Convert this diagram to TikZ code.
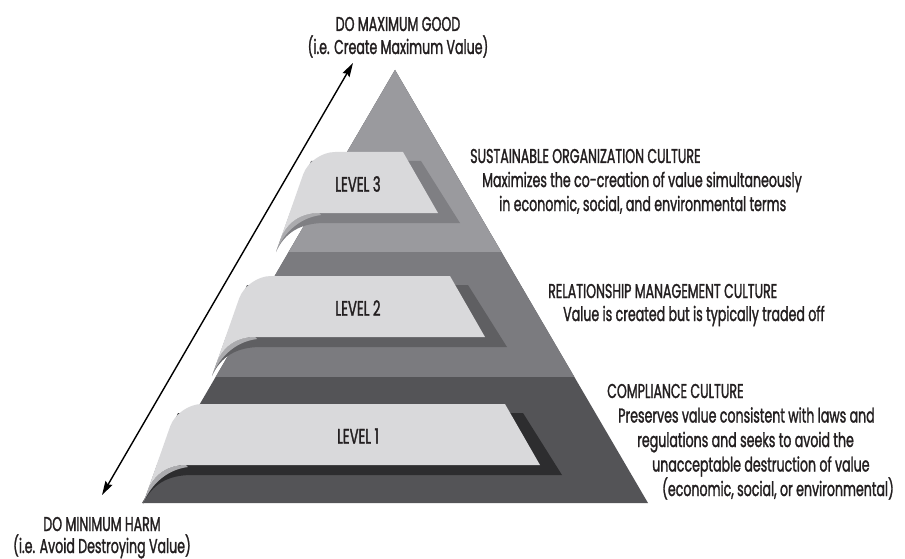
\documentclass[tikz,border=0pt]{standalone}
\usepackage{fontspec}
\setmainfont{Poppins}[FakeStretch=0.63,FakeBold=1.4]
\usetikzlibrary{arrows.meta}

\definecolor{ink}{HTML}{231F20}
\definecolor{tierthree}{HTML}{9A9A9E}
\definecolor{tiertwo}{HTML}{7B7B7F}
\definecolor{tierone}{HTML}{545457}
\definecolor{shadethree}{HTML}{7F7F83}
\definecolor{shadetwo}{HTML}{5F5F62}
\definecolor{shadeone}{HTML}{2D2D2F}
\definecolor{tabface}{HTML}{D9D9DB}
\definecolor{tabcurl}{HTML}{ABABAE}

\tikzset{
  txt/.style={font=\fontsize{20}{24}\selectfont, text=ink, inner sep=0pt, anchor=base west},
  endtxt/.style={font=\fontsize{20}{24}\selectfont, text=ink, inner sep=0pt, anchor=base},
  levellabel/.style={font=\fontsize{21}{24}\selectfont, text=ink, inner sep=0pt},
  arrowline/.style={line width=1.4pt, draw=black, {Stealth[length=14pt,width=8pt,inset=2pt]}-{Stealth[length=14pt,width=8pt,inset=2pt]}},
}

% One level tab: #1 node name, #2/#3 top-left corner, #4 length of top edge,
% #5 shadow colour, #6 label
\newcommand\leveltab[6]{%
  \begin{scope}[shift={(#2,#3)}]
    % drop shadow beneath and right of the sheet
    \fill[#5] (-35,100) .. controls (-26,80) and (-10,71) .. (14,71)
      -- ({#4+57},71) -- ({#4+18},9) -- (0,9) -- (-21,61) -- cycle;
    % underside of the curled edge
    \fill[tabcurl] (-30.5,87) -- (-35,100) .. controls (-29,84) and (-14,66) .. (10,63)
      -- (8,61) .. controls (-12,61) and (-25,72) .. (-30.5,87) -- cycle;
    % top face of the sheet
    \fill[tabface] (-30.5,87) [rounded corners=24pt] -- (0,0) [sharp corners] -- (#4,0)
      -- ({#4+35},61) -- (8,61) .. controls (-12,61) and (-25,72) .. (-30.5,87) -- cycle;
  \end{scope}
  \node[levellabel] (#1) at (358,{#3+32}) {#6};
}

\begin{document}
\begin{tikzpicture}[x=1pt,y=-1pt]
\useasboundingbox (0,0) rectangle (905,559);

% pyramid with three tiers
\coordinate (apex) at (395,70);
\coordinate (bl) at (142,503);
\coordinate (br) at (648,503);
\fill[tierone] (bl) -- (apex) -- (br) -- cycle;
\begin{scope}
  \clip (bl) -- (apex) -- (br) -- cycle;
  \fill[tiertwo] (100,60) rectangle (700,377);
  \fill[tierthree] (100,60) rectangle (700,252);
\end{scope}

% level tabs
\leveltab{lvthree}{311}{152}{92}{shadethree}{LEVEL 3}
\leveltab{lvtwo}{247}{276}{203}{shadetwo}{LEVEL 2}
\leveltab{lvone}{178}{404}{327}{shadeone}{LEVEL 1}

% scale ends
\node[endtxt] (good) at (398,31) {DO MAXIMUM GOOD};
\node[endtxt] (goodsub) at (398,54) {(i.e. Create Maximum Value)};
\node[endtxt] (harm) at (102,531) {DO MINIMUM HARM};
\node[endtxt] (harmsub) at (102,553) {(i.e. Avoid Destroying Value)};

\coordinate (arrowlow) at (102,495);
\coordinate (arrowhigh) at (353,63);
\draw[arrowline] (arrowlow) -- (arrowhigh);

% descriptions
\node[txt] (sust) at (470,163) {SUSTAINABLE ORGANIZATION CULTURE};
\node[txt] (sustA) at (482,187) {Maximizes the co-creation of value simultaneously};
\node[txt] (sustB) at (499,211) {in economic, social, and environmental terms};

\node[txt] (rel) at (548,298) {RELATIONSHIP MANAGEMENT CULTURE};
\node[txt] (relA) at (563,321) {Value is created but is typically traded off};

\node[txt] (comp) at (607,398) {COMPLIANCE CULTURE};
\node[txt] (compA) at (618,422.5) {Preserves value consistent with laws and};
\node[txt] (compB) at (637,447) {regulations and seeks to avoid the};
\node[txt] (compC) at (652,471.5) {unacceptable destruction of value};
\node[txt] (compD) at (662,496) {(economic, social, or environmental)};
\end{tikzpicture}
\end{document}
